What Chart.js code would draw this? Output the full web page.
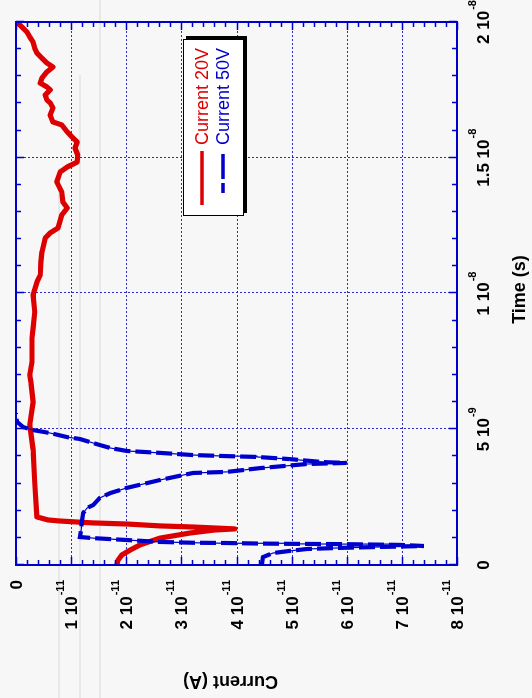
<!DOCTYPE html>
<html>
<head>
<meta charset="utf-8">
<script src="https://cdn.jsdelivr.net/npm/chart.js@4.4.1/dist/chart.umd.min.js"></script>
<style>
  html, body { margin: 0; padding: 0; background: #f7f7f7; width: 532px; height: 698px; overflow: hidden; position: relative; }
  .guide { position: absolute; width: 2px; background: #e8e8e8; }
  /* the plot is laid out with time running horizontally, then turned a quarter turn */
  #wrap { position: absolute; left: 0; top: 0; width: 698px; height: 532px;
          transform-origin: 0 0; transform: translate(0, 698px) rotate(-90deg); }
  canvas { display: block; }
</style>
</head>
<body>
<div class="guide" style="left:58px; top:168px; height:530px"></div>
<div class="guide" style="left:79px; top:75px; height:623px"></div>
<div class="guide" style="left:99px; top:0; height:698px"></div>
<div id="wrap"><canvas id="c" width="698" height="532"></canvas></div>
<script>
// ---- data -------------------------------------------------------------
const seriesNames = ['Current 20V', 'Current 50V'];

// Time (s) / current (A) for the 20 V run
const time20 = [
  0, 0.18e-9, 0.37e-9, 0.55e-9, 0.74e-9, 0.99e-9, 1.18e-9, 1.29e-9, 1.33e-9,
  1.40e-9, 1.44e-9, 1.51e-9, 1.55e-9, 1.62e-9, 1.66e-9, 1.77e-9,
  3.02e-9, 4.24e-9, 4.86e-9, 5.16e-9,
  6.00e-9, 6.74e-9, 7.00e-9, 7.48e-9, 8.36e-9, 8.73e-9, 9.32e-9, 9.94e-9,
  10.42e-9, 10.68e-9, 11.16e-9, 11.53e-9, 12.04e-9, 12.23e-9, 12.41e-9, 12.89e-9, 13.15e-9, 13.37e-9,
  13.74e-9, 14.11e-9, 14.47e-9, 14.66e-9, 14.84e-9, 15.10e-9, 15.36e-9, 15.58e-9, 15.76e-9, 15.95e-9,
  16.21e-9, 16.32e-9, 16.57e-9, 16.83e-9, 17.02e-9, 17.13e-9, 17.31e-9, 17.50e-9, 17.61e-9, 17.75e-9,
  17.94e-9, 18.16e-9, 18.34e-9, 18.49e-9, 18.67e-9, 18.86e-9, 19.04e-9, 19.26e-9, 19.45e-9, 19.63e-9,
  19.89e-9, 20.0e-9
];
const current20 = [
  1.83e-11, 1.85e-11, 1.92e-11, 2.07e-11, 2.25e-11, 2.61e-11, 3.16e-11, 3.61e-11, 3.97e-11,
  3.21e-11, 2.61e-11, 2.01e-11, 1.40e-11, 0.80e-11, 0.58e-11, 0.38e-11,
  0.34e-11, 0.31e-11, 0.27e-11, 0.25e-11,
  0.31e-11, 0.27e-11, 0.25e-11, 0.29e-11, 0.29e-11, 0.31e-11, 0.34e-11, 0.31e-11,
  0.38e-11, 0.44e-11, 0.45e-11, 0.47e-11, 0.53e-11, 0.62e-11, 0.76e-11, 0.83e-11, 0.93e-11, 0.85e-11,
  0.83e-11, 0.74e-11, 0.80e-11, 0.93e-11, 1.11e-11, 1.12e-11, 1.07e-11, 1.11e-11, 1.02e-11, 0.93e-11,
  0.83e-11, 0.67e-11, 0.62e-11, 0.67e-11, 0.62e-11, 0.56e-11, 0.53e-11, 0.62e-11, 0.56e-11, 0.44e-11,
  0.47e-11, 0.56e-11, 0.67e-11, 0.56e-11, 0.47e-11, 0.38e-11, 0.34e-11, 0.31e-11, 0.25e-11, 0.20e-11,
  0.07e-11, 0.02e-11
];

// Time (s) / current (A) for the 50 V run
const time50 = [
  0, 0.29e-9, 0.44e-9, 0.52e-9, 0.59e-9, 0.63e-9, 0.66e-9, 0.68e-9, 0.70e-9,
  0.74e-9, 0.77e-9, 0.78e-9, 0.79e-9, 0.81e-9, 0.82e-9, 0.85e-9, 0.92e-9, 0.99e-9, 1.03e-9,
  1.29e-9, 1.66e-9, 1.92e-9, 2.10e-9, 2.21e-9, 2.47e-9, 2.65e-9, 2.84e-9, 3.13e-9, 3.39e-9,
  3.43e-9, 3.57e-9, 3.61e-9, 3.72e-9, 3.76e-9,
  3.79e-9, 3.90e-9, 3.98e-9, 4.01e-9, 4.05e-9, 4.13e-9, 4.20e-9, 4.31e-9, 4.42e-9, 4.53e-9,
  4.64e-9, 4.71e-9, 4.86e-9, 4.97e-9, 5.08e-9, 5.27e-9, 5.45e-9, 5.60e-9
];
const current50 = [
  4.46e-11, 4.48e-11, 4.66e-11, 4.97e-11, 5.28e-11, 5.88e-11, 6.48e-11, 6.97e-11, 7.40e-11,
  6.97e-11, 5.88e-11, 4.97e-11, 4.43e-11, 3.83e-11, 3.21e-11, 2.61e-11, 2.01e-11, 1.40e-11, 1.16e-11,
  1.18e-11, 1.20e-11, 1.22e-11, 1.29e-11, 1.40e-11, 1.52e-11, 1.71e-11, 2.01e-11, 2.61e-11, 3.21e-11,
  3.83e-11, 4.43e-11, 4.66e-11, 5.28e-11, 6.00e-11,
  5.57e-11, 4.97e-11, 4.37e-11, 3.83e-11, 3.21e-11, 2.61e-11, 2.01e-11, 1.71e-11, 1.52e-11, 1.34e-11,
  1.16e-11, 0.93e-11, 0.62e-11, 0.31e-11, 0.13e-11, 0.02e-11, 0, 0
];

// Axis ticks and their labels: [mantissa part, exponent]
const timeTicks = [0, 5e-9, 1e-8, 1.5e-8, 2e-8];
const timeTickLabels = [['0', ''], ['5 10', '-9'], ['1 10', '-8'], ['1.5 10', '-8'], ['2 10', '-8']];
const currentTicks = [0, 1e-11, 2e-11, 3e-11, 4e-11, 5e-11, 6e-11, 7e-11, 8e-11];
const currentTickLabels = [['0', ''], ['1 10', '-11'], ['2 10', '-11'], ['3 10', '-11'], ['4 10', '-11'],
                           ['5 10', '-11'], ['6 10', '-11'], ['7 10', '-11'], ['8 10', '-11']];
const timeTitle = 'Time (s)';
const currentTitle = 'Current (A)';

// ---- styling ----------------------------------------------------------
const RED = '#dd0000';
const BLUE = '#0000cc';
const AXIS = '#0000cc';
const GRID = '#2a2ad0';
const FONT = '"Liberation Sans", Arial, Helvetica, sans-serif';

const pts = (xs, ys) => xs.map((v, i) => ({ x: v, y: ys[i] }));

function sciLabel(ctx, base, exp, x, baseline, align) {
  ctx.font = 'bold 17px ' + FONT;
  const wb = ctx.measureText(base).width;
  ctx.font = 'bold 11px ' + FONT;
  const we = exp ? ctx.measureText(exp).width + 1 : 0;
  const total = wb + we;
  const x0 = align === 'right' ? x - total : x - total / 2;
  ctx.textAlign = 'left';
  ctx.textBaseline = 'alphabetic';
  ctx.font = 'bold 17px ' + FONT;
  ctx.fillText(base, x0, baseline);
  if (exp) {
    ctx.font = 'bold 11px ' + FONT;
    ctx.fillText(exp, x0 + wb + 1, baseline - 13);
  }
}

// Box frame, dotted grid, inward ticks, labels, titles and the legend
const frame = {
  id: 'frame',
  beforeDatasetsDraw(chart) {
    const { ctx, chartArea: a, scales: { x, y } } = chart;
    ctx.save();
    ctx.strokeStyle = GRID;
    ctx.lineWidth = 1;
    ctx.setLineDash([2, 2]);
    ctx.beginPath();
    timeTicks.slice(1, -1).forEach(v => {
      const p = Math.round(x.getPixelForValue(v)) + 0.5;
      ctx.moveTo(p, a.top); ctx.lineTo(p, a.bottom);
    });
    currentTicks.slice(1, -1).forEach(v => {
      const p = Math.round(y.getPixelForValue(v)) + 0.5;
      ctx.moveTo(a.left, p); ctx.lineTo(a.right, p);
    });
    ctx.stroke();
    ctx.restore();
  },
  afterDatasetsDraw(chart) {
    const { ctx, chartArea: a, scales: { x, y } } = chart;
    ctx.save();

    // inward minor / major ticks on all four sides
    ctx.strokeStyle = AXIS;
    ctx.lineWidth = 1.5;
    ctx.beginPath();
    for (let i = 0; i <= 20; i++) {
      const p = Math.round(x.getPixelForValue(i * 1e-9)) + 0.5;
      const len = i % 5 === 0 ? 8 : 5;
      ctx.moveTo(p, a.bottom); ctx.lineTo(p, a.bottom - len);
      ctx.moveTo(p, a.top); ctx.lineTo(p, a.top + len);
    }
    for (let j = 0; j <= 40; j++) {
      const p = Math.round(y.getPixelForValue(j * 2e-12)) + 0.5;
      const len = j % 5 === 0 ? 8 : 5;
      ctx.moveTo(a.left, p); ctx.lineTo(a.left + len, p);
      ctx.moveTo(a.right, p); ctx.lineTo(a.right - len, p);
    }
    ctx.stroke();

    // plot frame
    ctx.lineWidth = 2;
    ctx.strokeRect(a.left, a.top, a.right - a.left, a.bottom - a.top);

    // tick labels
    ctx.fillStyle = '#000';
    timeTicks.forEach((v, i) => {
      const [b, e] = timeTickLabels[i];
      sciLabel(ctx, b, e, x.getPixelForValue(v), a.bottom + 32, 'center');
    });
    currentTicks.forEach((v, i) => {
      const [b, e] = currentTickLabels[i];
      sciLabel(ctx, b, e, a.left - 15, y.getPixelForValue(v) + 6, 'right');
    });

    // axis titles
    ctx.font = 'bold 18px ' + FONT;
    ctx.textAlign = 'center';
    ctx.textBaseline = 'middle';
    ctx.fillText(timeTitle, (a.left + a.right) / 2 + 4, a.bottom + 63);
    ctx.save();
    ctx.translate(17, (a.top + a.bottom) / 2 - 6);
    ctx.rotate(-Math.PI / 2);
    ctx.fillText(currentTitle, 0, 0);
    ctx.restore();

    // legend box with drop shadow
    const L = { x: 482, y: 183, w: 177, h: 61 };
    ctx.fillStyle = '#000';
    ctx.fillRect(L.x + 3, L.y + 3, L.w, L.h);
    ctx.fillStyle = '#fff';
    ctx.fillRect(L.x, L.y, L.w, L.h);
    ctx.strokeStyle = '#000';
    ctx.lineWidth = 1;
    ctx.strokeRect(L.x + 0.5, L.y + 0.5, L.w - 1, L.h - 1);

    const ds = chart.data.datasets;
    ctx.lineWidth = 3.5;
    ctx.strokeStyle = ds[0].borderColor;
    ctx.beginPath(); ctx.moveTo(493, 202); ctx.lineTo(547, 202); ctx.stroke();
    ctx.strokeStyle = ds[2].borderColor;
    ctx.setLineDash([10, 4, 25, 4]);
    ctx.beginPath(); ctx.moveTo(505, 223); ctx.lineTo(544, 223); ctx.stroke();
    ctx.setLineDash([]);

    ctx.font = '18px ' + FONT;
    ctx.textAlign = 'left';
    ctx.textBaseline = 'middle';
    ctx.fillStyle = ds[0].borderColor;
    ctx.fillText(seriesNames[0], 553, 203);
    ctx.fillStyle = ds[2].borderColor;
    ctx.fillText(seriesNames[1], 553, 224);

    ctx.restore();
  }
};

new Chart(document.getElementById('c'), {
  type: 'scatter',
  data: {
    datasets: [
      { label: seriesNames[0], data: pts(time20, current20), showLine: true,
        borderColor: RED, borderWidth: 5.2, pointRadius: 0, order: 3,
        borderJoinStyle: 'round', borderCapStyle: 'round' },
      { label: seriesNames[1], data: pts(time50, current50), showLine: true,
        borderColor: BLUE, borderWidth: 1.2, pointRadius: 0, order: 2 },
      { label: seriesNames[1], data: pts(time50, current50), showLine: true,
        borderColor: BLUE, borderWidth: 4.2, borderDash: [16, 5], pointRadius: 0, order: 1 }
    ]
  },
  options: {
    responsive: false,
    animation: false,
    devicePixelRatio: 1,
    layout: { padding: { left: 133, right: 22, top: 16, bottom: 75 } },
    elements: { line: { tension: 0 } },
    scales: {
      x: { type: 'linear', min: 0, max: 2e-8, display: false },
      y: { type: 'linear', min: 0, max: 8e-11, reverse: true, display: false }
    },
    plugins: { legend: { display: false }, tooltip: { enabled: false } }
  },
  plugins: [frame]
});
</script>
</body>
</html>
